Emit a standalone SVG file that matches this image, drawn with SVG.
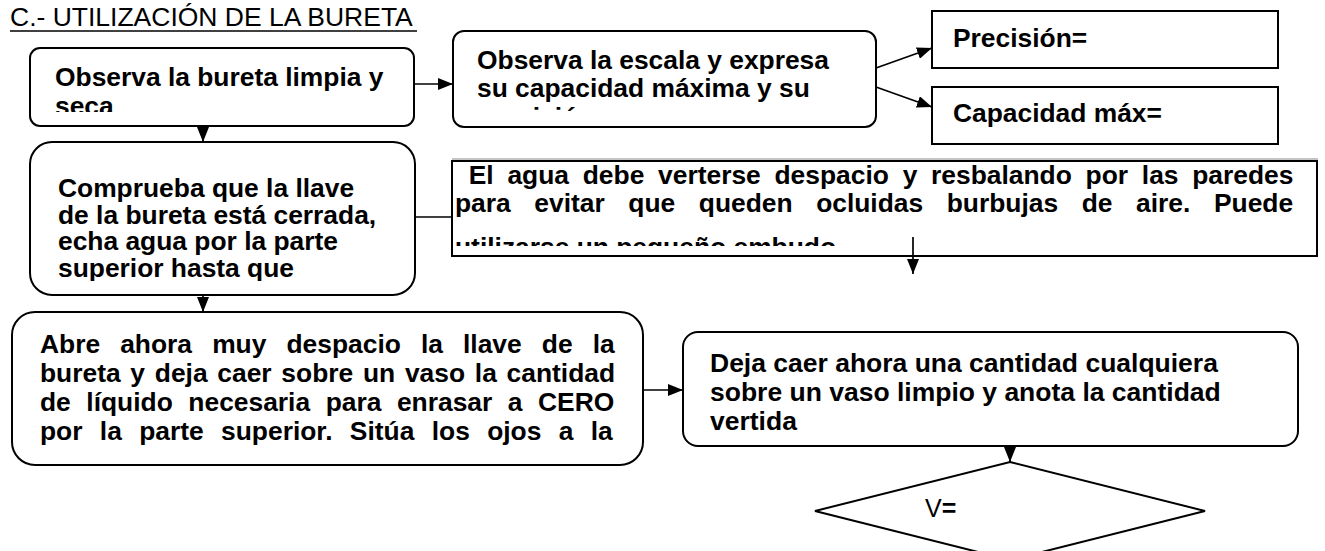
<svg xmlns="http://www.w3.org/2000/svg" width="1325" height="551" viewBox="0 0 1325 551">
<style>
.bx{fill:#fff;stroke:#000;stroke-width:2}
.t{font-family:"Liberation Sans",Arial,sans-serif;font-size:25px;font-weight:bold;fill:#000}
.r{font-family:"Liberation Sans",Arial,sans-serif;font-size:25px;font-weight:normal;fill:#000}
.c{fill:none;stroke:#000;stroke-width:1.7}
</style>
<defs>
<marker id="ah" viewBox="0 0 15 12" refX="15" refY="6" markerWidth="15" markerHeight="12" markerUnits="userSpaceOnUse" orient="auto">
<path d="M0,0 L15,6 L0,12 z" fill="#000"/>
</marker>
<clipPath id="c1"><rect x="30" y="48" width="384" height="64"/></clipPath>
<clipPath id="c2"><rect x="453" y="31" width="423" height="81"/></clipPath>
<clipPath id="c3"><rect x="30" y="142" width="385" height="139"/></clipPath>
<clipPath id="c4"><rect x="452" y="161" width="865" height="85"/></clipPath>
<clipPath id="c5"><rect x="12" y="312" width="631" height="133"/></clipPath>
</defs>
<rect width="1325" height="551" fill="#fff"/>

<g id="title">
<text class="r" transform="translate(10 0) scale(1.06 1)"><tspan x="0" y="26">C.- UTILIZACIÓN DE LA BURETA</tspan></text>
<line x1="10" y1="31" x2="417" y2="31" stroke="#000" stroke-width="1.5"/>
</g>

<g id="connectors">
<line class="c" x1="414" y1="84" x2="453" y2="84" marker-end="url(#ah)"/>
<line class="c" x1="203" y1="126" x2="203" y2="142" marker-end="url(#ah)"/>
<line class="c" x1="876" y1="68" x2="932" y2="48" marker-end="url(#ah)"/>
<line class="c" x1="876" y1="87" x2="932" y2="107" marker-end="url(#ah)"/>
<line class="c" x1="415" y1="217" x2="452" y2="217"/>
<line class="c" x1="203" y1="295" x2="203" y2="312" marker-end="url(#ah)"/>
<line class="c" x1="643" y1="390" x2="683" y2="390" marker-end="url(#ah)"/>
<line class="c" x1="1010" y1="443" x2="1010" y2="462" marker-end="url(#ah)"/>
</g>

<g id="n1">
<rect class="bx" x="30" y="48" width="384" height="78" rx="10"/>
<g clip-path="url(#c1)"><text class="t" transform="translate(55 0) scale(1.056 1)"><tspan x="0" y="86">Observa la bureta limpia y</tspan><tspan x="0" y="115">seca</tspan></text></g>
</g>

<g id="n2">
<rect class="bx" x="453" y="31" width="423" height="96" rx="11"/>
<g clip-path="url(#c2)"><text class="t" transform="translate(477 0) scale(1.056 1)"><tspan x="0" y="69">Observa la escala y expresa</tspan><tspan x="0" y="97">su capacidad máxima y su</tspan><tspan x="0" y="126">precisión</tspan></text></g>
</g>

<g id="n3">
<rect class="bx" x="932" y="11" width="346" height="57"/>
<text class="t" transform="translate(953 0) scale(1.056 1)"><tspan x="0" y="47">Precisión=</tspan></text>
</g>

<g id="n4">
<rect class="bx" x="932" y="87" width="346" height="57"/>
<text class="t" transform="translate(953 0) scale(1.056 1)"><tspan x="0" y="122">Capacidad máx=</tspan></text>
</g>

<line x1="452" y1="159" x2="1318" y2="159" stroke="#8a8a8a" stroke-width="1"/>

<g id="n5">
<rect class="bx" x="30" y="142" width="385" height="153" rx="22"/>
<g clip-path="url(#c3)"><text class="t" transform="translate(58 0) scale(1.056 1)"><tspan x="0" y="197">Comprueba que la llave</tspan><tspan x="0" y="224">de la bureta está cerrada,</tspan><tspan x="0" y="250">echa agua por la parte</tspan><tspan x="0" y="277">superior hasta que</tspan></text></g>
</g>

<g id="n6">
<rect class="bx" x="452" y="161" width="865" height="95"/>
<g clip-path="url(#c4)"><text class="t" transform="translate(455 0) scale(1.056 1)"><tspan x="13" y="184" word-spacing="6.1">El agua debe verterse despacio y resbalando por las paredes</tspan><tspan x="0" y="212" word-spacing="15.4">para evitar que queden ocluidas burbujas de aire. Puede</tspan><tspan x="0" y="256">utilizarse un pequeño embudo</tspan></text></g>
<line class="c" x1="913" y1="237" x2="913" y2="274" marker-end="url(#ah)"/>
</g>

<g id="n7">
<rect class="bx" x="12" y="312" width="631" height="153" rx="23"/>
<g clip-path="url(#c5)"><text class="t" transform="translate(40 0) scale(1.056 1)"><tspan x="0" y="353" word-spacing="12.1">Abre ahora muy despacio la llave de la</tspan><tspan x="0" y="382" word-spacing="2.3">bureta y deja caer sobre un vaso la cantidad</tspan><tspan x="0" y="411" word-spacing="7.8">de líquido necesaria para enrasar a CERO</tspan><tspan x="0" y="440" word-spacing="9.5">por la parte superior. Sitúa los ojos a la</tspan></text></g>
</g>

<g id="n8">
<rect class="bx" x="683" y="332" width="615" height="114" rx="15"/>
<text class="t" transform="translate(710 0) scale(1.06 1)"><tspan x="0" y="372">Deja caer ahora una cantidad cualquiera</tspan><tspan x="0" y="401">sobre un vaso limpio y anota la cantidad</tspan><tspan x="0" y="430">vertida</tspan></text>
</g>

<g id="n9">
<polygon class="bx" points="1010,462 1205,511 1010,560 815,511"/>
<text class="r" x="925" y="517">V<tspan font-weight="bold">=</tspan></text>
</g>
</svg>
